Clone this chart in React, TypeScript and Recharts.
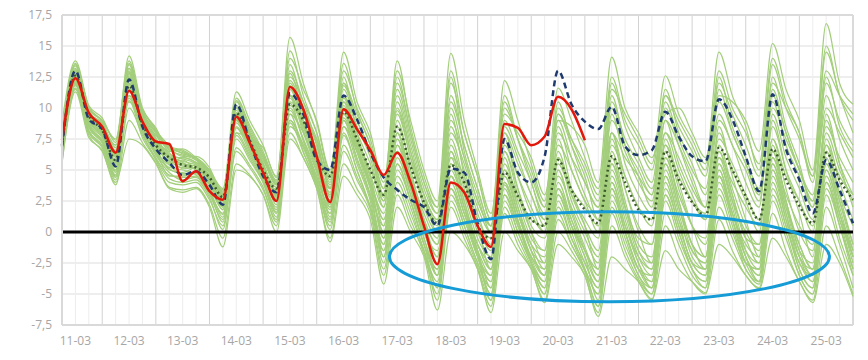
import { LineChart, Line, XAxis, YAxis, CartesianGrid, ReferenceLine, ReferenceDot } from 'recharts';

// one value every 6 hours, from 11-03 06:00 to 26-03 00:00 (hour 0 = 11-03 00:00)
const hours = Array.from({ length: 60 }, (_, i) => 6 + i * 6);

const dayLabels = ['11-03', '12-03', '13-03', '14-03', '15-03', '16-03', '17-03', '18-03', '19-03', '20-03', '21-03', '22-03', '23-03', '24-03', '25-03'];
const yTicks = [-7.5, -5, -2.5, 0, 2.5, 5, 7.5, 10, 12.5, 15, 17.5];

// measured temperatures (stops on 20-03)
const observed = [
  7.4, 12.4, 9.6, 8.5, 6.4, 11.4, 8.9, 7.3, 7.1, 4.1, 4.9, 3.3,
  2.6, 9.3, 7.2, 4.8, 2.5, 11.7, 9.9, 6.1, 2.4, 9.9, 8.3, 6.6,
  4.6, 6.4, 4.0, 0.5, -2.6, 4.0, 3.2, 0.5, -1.2, 8.7, 8.4, 7.0,
  7.7, 10.9, 9.9, 7.4,
];

// control run (dashed)
const control = [
  6.9, 13.0, 9.1, 8.3, 5.3, 12.3, 8.5, 6.7, 5.6, 4.6, 4.9, 3.8,
  2.2, 10.3, 7.3, 4.5, 3.2, 11.2, 9.5, 5.8, 5.0, 11.0, 9.1, 6.4,
  4.4, 3.4, 2.6, 2.0, 0.5, 5.1, 4.8, 0.7, -2.2, 7.5, 4.8, 4.0,
  6.1, 13.0, 10.3, 8.9, 8.3, 10.1, 6.9, 6.2, 6.6, 9.7, 7.7, 6.1,
  5.7, 10.7, 9.1, 6.1, 3.3, 11.1, 6.7, 4.2, 1.5, 5.8, 3.4, 0.7,
];

// ensemble mean (dotted)
const ensMean = [
  7.0, 12.6, 9.4, 8.2, 5.8, 11.8, 8.7, 7.0, 6.0, 5.4, 5.2, 4.4,
  2.8, 9.6, 7.4, 5.0, 3.5, 10.3, 9.0, 6.0, 4.5, 9.7, 7.5, 5.0,
  3.0, 8.5, 5.3, 2.4, 0.7, 5.4, 4.0, 0.5, -0.5, 4.8, 2.9, 1.0,
  0.5, 5.8, 3.4, 1.8, 0.7, 6.1, 4.0, 1.8, 1.0, 6.5, 4.2, 2.4,
  1.3, 6.8, 5.0, 2.9, 1.0, 6.7, 4.2, 2.1, 0.7, 6.4, 4.2, 2.6,
];

// ensemble members
const ens01 = [7.5, 13.2, 9.8, 8.6, 6.2, 12.8, 9.5, 8.0, 6.8, 6.5, 5.8, 4.6, 3.0, 10.8, 8.6, 6.5, 4.2, 15.7, 12.0, 8.8, 4.8, 14.5, 10.5, 8.0, 4.0, 13.0, 9.0, 5.0, 2.5, 14.4, 9.0, 5.0, 1.5, 9.5, 8.0, 6.0, 3.0, 9.0, 8.5, 7.0, 4.0, 14.1, 10.0, 8.0, 6.0, 9.5, 10.0, 8.0, 6.0, 11.0, 10.5, 9.0, 6.5, 15.2, 11.5, 9.0, 5.0, 16.8, 12.0, 10.3];
const ens02 = [8.8, 13.8, 10.2, 9.2, 7.2, 14.2, 10.0, 8.4, 6.5, 6.7, 6.0, 5.0, 3.5, 11.3, 9.0, 7.0, 4.5, 14.0, 11.5, 9.0, 5.0, 13.0, 10.0, 7.5, 3.5, 13.8, 8.5, 4.5, 2.0, 12.0, 8.0, 4.5, 1.0, 12.2, 9.0, 5.5, 2.5, 11.6, 9.0, 6.0, 3.5, 11.5, 9.5, 7.5, 5.5, 12.6, 9.5, 7.5, 5.5, 14.5, 11.0, 8.5, 5.0, 12.0, 10.0, 8.0, 4.0, 13.0, 11.0, 9.5];
const ens03 = [6.5, 12.9, 9.0, 7.8, 5.5, 13.5, 9.2, 7.5, 5.8, 5.2, 5.4, 4.2, 2.8, 10.0, 8.0, 6.0, 3.8, 12.5, 10.5, 8.0, 4.2, 12.0, 9.0, 6.5, 3.0, 11.5, 7.5, 3.5, 1.5, 10.5, 7.0, 3.5, 0.5, 10.0, 7.5, 4.5, 2.0, 10.0, 7.5, 5.0, 2.5, 12.0, 8.5, 6.0, 4.0, 11.0, 8.5, 6.5, 4.5, 12.0, 9.5, 7.0, 4.5, 13.5, 10.0, 7.5, 4.5, 14.5, 11.0, 8.0];
const ens04 = [7.0, 13.4, 9.6, 8.4, 6.5, 12.0, 9.0, 7.2, 5.5, 6.0, 5.6, 4.8, 2.2, 9.0, 7.5, 5.5, 3.0, 13.5, 10.0, 7.5, 3.5, 11.5, 8.5, 6.0, 2.0, 10.5, 6.5, 2.5, 0.5, 12.5, 6.5, 3.0, 0.0, 8.5, 6.0, 3.0, 1.0, 8.0, 6.0, 4.0, 2.0, 10.0, 7.0, 5.0, 3.0, 10.5, 7.5, 5.0, 3.5, 10.5, 8.0, 5.5, 3.0, 11.0, 8.0, 5.0, 2.5, 12.0, 9.0, 7.0];
const ens05 = [7.8, 12.2, 8.6, 7.4, 5.0, 11.5, 8.4, 6.8, 5.0, 4.8, 5.2, 4.0, 2.5, 9.6, 7.8, 5.2, 3.2, 11.5, 9.5, 6.5, 3.0, 10.5, 8.0, 5.5, 2.5, 9.5, 6.0, 3.0, 1.0, 9.0, 6.0, 2.5, 0.5, 11.0, 7.5, 4.0, 1.5, 9.5, 7.0, 4.5, 1.0, 9.0, 6.5, 4.0, 2.5, 9.0, 7.0, 4.5, 2.0, 12.5, 8.5, 6.0, 3.5, 10.0, 7.5, 5.0, 3.0, 10.0, 8.0, 6.0];
const ens06 = [6.8, 12.6, 9.3, 8.1, 5.6, 12.0, 8.8, 7.0, 6.0, 5.5, 5.3, 4.4, 2.6, 9.4, 7.3, 5.0, 3.4, 10.5, 9.0, 6.0, 4.4, 9.8, 7.5, 5.0, 3.0, 8.5, 5.5, 2.5, 0.8, 6.0, 4.5, 1.0, -0.5, 5.0, 3.0, 1.0, 0.5, 6.0, 3.5, 2.0, 0.5, 7.0, 4.5, 2.0, 1.0, 7.0, 4.5, 2.5, 1.5, 7.5, 5.5, 3.0, 1.0, 7.5, 4.5, 2.5, 0.5, 7.0, 4.5, 3.0];
const ens07 = [6.2, 12.0, 8.4, 7.2, 4.8, 10.8, 8.0, 6.5, 4.5, 4.5, 4.8, 3.6, 1.8, 8.5, 6.8, 4.8, 2.8, 9.5, 8.0, 5.5, 3.5, 8.5, 6.5, 4.0, 1.5, 7.5, 4.5, 1.5, -0.5, 7.5, 4.0, 0.5, -1.5, 6.5, 3.5, 0.5, -0.5, 5.5, 3.0, 1.0, -0.5, 8.0, 4.5, 2.0, 0.5, 8.0, 5.0, 2.5, 1.0, 6.0, 4.0, 2.0, 0.5, 8.5, 5.0, 2.5, 0.0, 9.0, 5.5, 3.0];
const ens08 = [7.2, 12.8, 9.6, 8.8, 6.8, 11.0, 9.8, 8.2, 7.0, 6.3, 6.0, 5.0, 3.2, 10.2, 8.2, 6.2, 4.0, 11.0, 10.0, 7.0, 3.8, 11.0, 8.5, 6.5, 2.5, 12.5, 8.0, 4.0, 1.5, 8.0, 5.5, 2.0, 0.0, 7.0, 4.5, 2.0, 0.0, 7.0, 5.0, 2.5, 1.5, 10.5, 7.5, 5.5, 3.5, 8.0, 6.0, 3.5, 2.0, 9.0, 7.0, 4.0, 2.0, 12.5, 8.5, 5.5, 2.0, 8.5, 6.0, 4.0];
const ens09 = [6.0, 12.4, 8.8, 7.6, 5.2, 12.4, 8.6, 6.6, 5.2, 5.0, 4.6, 3.2, 1.5, 8.0, 6.2, 4.2, 2.0, 10.0, 7.5, 4.5, 2.0, 9.0, 6.0, 3.0, 0.5, 8.0, 4.0, 1.0, -1.0, 6.5, 3.0, -0.5, -2.0, 5.5, 2.5, -0.5, -1.5, 6.0, 2.5, 0.0, -2.0, 5.5, 2.0, -0.5, -1.0, 6.0, 3.0, 0.5, -1.0, 5.5, 2.5, 0.0, -1.5, 6.0, 3.0, 0.5, -1.0, 6.5, 3.0, 0.5];
const ens10 = [6.4, 12.5, 9.0, 7.9, 5.8, 12.6, 9.0, 7.2, 6.2, 5.6, 5.0, 3.8, 2.0, 9.2, 7.0, 4.6, 2.5, 9.0, 7.0, 4.0, 1.5, 8.0, 5.0, 2.0, -1.0, 5.5, 2.5, -1.0, -3.0, 4.0, 1.0, -1.5, -3.5, 3.5, 0.5, -2.0, -3.0, 3.0, 0.5, -1.5, -3.5, 4.0, 0.5, -2.0, -3.0, 4.5, 1.0, -1.5, -2.5, 5.0, 1.5, -1.0, -2.0, 5.5, 2.0, -1.0, -3.0, 5.0, 1.5, -1.5];
const ens11 = [6.6, 13.0, 9.2, 8.0, 6.0, 13.2, 9.4, 7.6, 5.6, 5.8, 5.0, 4.2, 2.4, 9.8, 7.6, 5.4, 3.6, 12.0, 9.0, 6.0, 3.2, 10.0, 7.0, 4.0, 1.0, 6.5, 3.5, 0.5, -2.0, 5.0, 2.0, -1.0, -3.0, 4.5, 1.5, -1.0, -2.0, 4.5, 2.0, -0.5, -2.5, 6.5, 2.5, -1.0, -2.0, 5.5, 2.0, -1.0, -2.0, 6.5, 3.0, -0.5, -1.0, 6.5, 2.5, -1.5, -2.5, 5.5, 2.5, -1.0];
const ens12 = [5.8, 11.8, 8.2, 7.0, 4.5, 11.0, 8.2, 6.2, 4.8, 4.2, 4.4, 3.0, 1.0, 7.5, 5.8, 4.0, 1.5, 8.5, 7.0, 4.2, 1.0, 7.0, 4.5, 2.0, -1.5, 4.5, 2.0, -1.5, -4.0, 3.0, 0.5, -2.5, -4.5, 2.5, 0.0, -2.5, -4.0, 2.0, -0.5, -2.5, -4.5, 3.0, 0.0, -3.0, -4.0, 3.5, 0.5, -2.5, -3.5, 4.0, 1.0, -2.0, -3.5, 4.0, 0.5, -2.5, -4.0, 3.5, 0.5, -3.0];
const ens13 = [7.4, 12.7, 9.4, 8.4, 6.4, 12.2, 9.0, 7.4, 6.4, 5.4, 5.6, 4.6, 2.9, 9.0, 7.0, 5.0, 2.2, 10.8, 8.0, 5.0, 2.5, 9.5, 6.5, 3.5, 0.0, 7.0, 3.5, 0.0, -2.5, 4.5, 1.5, -2.0, -4.0, 3.0, 0.5, -2.5, -4.5, 1.5, -1.0, -3.0, -5.0, 2.5, -0.5, -3.5, -4.5, 2.5, -0.5, -3.0, -4.0, 3.0, 0.0, -2.5, -3.0, 4.5, 1.0, -2.0, -3.5, 4.0, 1.0, -2.0];
const ens14 = [6.9, 13.1, 9.9, 8.9, 6.6, 13.6, 9.6, 7.8, 6.6, 6.2, 5.8, 4.8, 3.1, 10.5, 8.0, 5.8, 3.9, 13.0, 10.5, 7.0, 2.8, 12.5, 8.0, 4.5, 0.5, 9.0, 5.0, 1.0, -2.0, 9.5, 4.5, 0.5, -3.0, 7.5, 3.5, 0.0, -2.5, 7.5, 3.5, 0.5, -3.0, 8.0, 3.5, 0.0, -2.5, 7.5, 4.0, 0.5, -2.0, 8.5, 4.5, 1.0, -2.0, 9.0, 5.0, 1.5, -2.0, 9.5, 5.5, 2.0];
const ens15 = [6.1, 11.6, 8.0, 6.8, 4.2, 10.0, 7.8, 5.8, 4.0, 3.8, 4.0, 2.6, 0.5, 6.5, 5.2, 3.4, 1.0, 9.5, 6.5, 3.8, 0.5, 8.5, 5.5, 2.5, -2.5, 5.0, 2.5, -1.0, -4.5, 5.5, 2.0, -2.0, -5.0, 4.0, 1.0, -2.5, -5.0, 3.0, 0.0, -3.0, -6.0, 2.0, -1.0, -3.5, -5.0, 3.0, 0.0, -3.0, -4.5, 3.5, 0.5, -3.0, -4.0, 3.0, 0.0, -3.5, -5.0, 3.0, -0.5, -3.5];
const ens16 = [8.2, 13.5, 10.0, 9.0, 7.5, 13.8, 9.8, 8.0, 6.0, 6.0, 5.6, 4.4, 2.0, 10.0, 7.8, 5.6, 3.0, 12.8, 9.5, 6.5, 2.0, 11.0, 7.5, 4.0, -0.5, 8.0, 4.5, 0.5, -3.5, 6.5, 2.5, -1.5, -5.5, 5.0, 1.5, -1.5, -3.5, 5.0, 1.5, -1.5, -4.0, 5.0, 1.5, -2.0, -3.5, 6.0, 2.5, -1.0, -3.0, 6.0, 2.5, -1.5, -3.0, 7.0, 2.5, -1.0, -3.0, 7.0, 3.0, -1.0];
const ens17 = [5.6, 11.3, 7.6, 6.6, 3.8, 9.0, 7.2, 5.6, 3.6, 3.4, 3.6, 2.2, -0.5, 5.5, 4.6, 3.0, 0.5, 8.0, 6.0, 3.5, -0.5, 5.5, 3.5, 1.5, -3.5, 3.0, 0.5, -1.5, -5.5, 2.0, -0.5, -3.0, -6.0, 1.5, -1.0, -3.0, -5.5, 0.0, -1.5, -3.5, -6.5, 0.5, -2.0, -4.0, -5.5, 0.5, -2.0, -4.0, -5.0, 1.0, -1.5, -3.5, -4.5, 1.5, -1.5, -4.0, -5.5, 0.5, -2.0, -5.0];
const ens18 = [5.5, 11.5, 7.8, 6.5, 4.0, 7.5, 7.0, 5.5, 3.5, 3.2, 3.5, 2.0, -1.2, 5.0, 4.5, 3.0, 0.0, 7.5, 6.0, 3.5, -0.8, 4.5, 3.0, 1.0, -4.2, 2.0, 0.0, -2.0, -6.3, 0.0, -1.0, -3.0, -6.5, 0.0, -1.5, -3.0, -5.7, -1.0, -2.0, -3.5, -6.8, -2.0, -3.0, -4.0, -5.4, -1.5, -3.0, -4.0, -4.9, -1.0, -2.0, -3.5, -4.6, -0.5, -2.0, -4.0, -5.7, -1.0, -2.5, -5.2];
const ens19 = [7.6, 12.3, 9.5, 8.5, 7.0, 10.5, 9.0, 7.8, 6.9, 6.6, 5.9, 4.9, 3.3, 8.0, 7.5, 6.8, 4.4, 11.0, 8.5, 7.5, 4.6, 12.0, 9.5, 7.0, 3.5, 11.0, 7.0, 3.0, 0.0, 11.0, 7.0, 3.5, 0.5, 9.0, 6.5, 4.0, 1.0, 10.5, 7.0, 4.0, 2.0, 8.0, 6.0, 4.5, 3.0, 11.5, 8.0, 5.5, 3.0, 9.5, 7.0, 5.0, 2.5, 10.5, 7.0, 4.5, 2.0, 11.0, 7.5, 5.0];
const ens20 = [6.3, 12.1, 8.7, 7.3, 5.0, 11.8, 8.4, 6.4, 5.4, 4.6, 4.8, 3.4, 1.2, 8.8, 6.6, 4.4, 1.8, 9.8, 7.5, 4.8, 1.5, 9.2, 6.5, 3.5, -2.0, 6.5, 3.0, -0.5, -3.5, 3.5, 1.0, -2.0, -3.5, 6.0, 2.0, -1.5, -3.5, 4.0, 1.0, -2.0, -4.0, 4.5, 1.0, -2.5, -4.5, 4.0, 0.5, -2.5, -3.5, 5.0, 1.5, -2.0, -4.0, 5.0, 1.0, -3.0, -4.5, 6.0, 1.5, -2.5];
const ens21 = [6.7, 12.6, 9.1, 8.0, 5.4, 12.9, 8.9, 7.0, 5.9, 5.3, 5.1, 4.0, 1.8, 9.0, 6.8, 4.7, 2.6, 11.5, 8.5, 5.5, 1.2, 10.5, 6.5, 3.0, -1.0, 7.5, 3.5, -0.5, -3.0, 5.5, 2.0, -1.5, -4.5, 4.0, 1.0, -2.0, -3.5, 3.5, 0.5, -2.0, -5.5, 3.5, 0.0, -3.0, -3.5, 5.0, 1.5, -2.0, -3.0, 5.5, 2.0, -2.0, -3.5, 6.0, 2.0, -2.0, -4.0, 4.5, 1.0, -3.0];
const ens22 = [7.1, 12.9, 9.5, 8.3, 6.1, 13.0, 9.3, 7.5, 6.3, 5.9, 5.5, 4.3, 2.3, 9.6, 7.2, 5.1, 2.9, 11.0, 8.5, 5.5, 2.2, 9.8, 6.8, 3.8, -0.5, 6.0, 3.0, 0.0, -1.5, 4.5, 1.5, -1.0, -2.5, 4.5, 1.5, -1.5, -2.5, 3.5, 1.0, -1.5, -3.0, 5.5, 2.0, -1.5, -2.5, 5.5, 2.0, -1.5, -2.5, 4.5, 1.5, -1.5, -2.5, 5.0, 1.5, -2.0, -3.0, 5.5, 2.0, -2.0];
const ens23 = [6.5, 12.8, 9.0, 7.7, 5.7, 12.5, 8.8, 6.9, 5.7, 5.5, 5.0, 3.9, 2.1, 9.3, 7.1, 4.9, 2.7, 11.0, 8.2, 5.2, 2.6, 10.2, 7.0, 3.8, 0.0, 7.0, 3.8, 0.2, -2.5, 6.0, 2.5, -1.0, -3.0, 5.0, 2.0, -1.0, -3.0, 5.0, 1.8, -1.2, -3.5, 6.0, 2.0, -1.5, -3.0, 6.5, 2.5, -1.0, -2.0, 6.5, 3.0, -0.5, -2.5, 6.5, 2.5, -1.5, -3.5, 6.5, 2.5, -1.5];
const ens24 = [7.3, 12.5, 9.2, 8.0, 6.3, 11.6, 8.6, 7.2, 6.1, 5.1, 5.2, 4.1, 2.7, 9.1, 7.4, 5.3, 3.3, 10.2, 8.6, 5.8, 3.6, 9.5, 7.2, 4.6, 2.0, 9.8, 6.0, 2.0, 0.0, 8.5, 5.0, 1.5, -1.0, 8.0, 4.5, 1.5, 0.0, 8.5, 5.0, 2.5, 0.0, 9.5, 5.5, 3.0, 1.5, 9.0, 5.5, 3.0, 1.0, 8.0, 5.0, 2.5, 0.0, 9.5, 6.0, 3.5, 1.0, 8.0, 5.0, 2.5];
const ens25 = [6.0, 12.0, 8.5, 7.2, 4.6, 11.4, 8.0, 6.0, 4.6, 4.4, 4.5, 3.2, 0.8, 7.8, 6.0, 4.0, 1.2, 9.0, 6.8, 4.0, 0.8, 7.8, 5.0, 2.0, -2.0, 4.0, 1.5, -1.5, -4.5, 3.5, 0.5, -2.5, -5.0, 3.0, 0.0, -2.5, -4.5, 2.5, -0.5, -3.0, -5.0, 3.5, 0.0, -3.0, -4.5, 3.0, 0.0, -3.0, -4.0, 4.5, 1.0, -2.5, -4.0, 3.5, 0.5, -3.0, -4.5, 4.0, 0.5, -3.5];
const ens26 = [7.9, 13.6, 10.1, 9.0, 7.4, 13.2, 9.9, 8.3, 6.7, 6.4, 5.9, 4.9, 3.4, 10.6, 8.4, 6.3, 4.1, 14.6, 11.0, 8.0, 4.5, 13.6, 9.8, 7.0, 3.0, 12.0, 8.0, 4.0, 2.0, 13.0, 8.0, 4.5, 1.0, 10.5, 7.5, 5.0, 2.0, 9.5, 7.5, 5.5, 3.0, 12.5, 9.0, 7.0, 5.0, 11.0, 9.0, 7.0, 5.0, 13.0, 10.0, 8.0, 5.5, 14.0, 10.5, 8.0, 4.5, 15.0, 11.0, 9.0];
const ens27 = [6.2, 12.2, 8.6, 7.4, 4.9, 11.9, 8.3, 6.3, 5.1, 4.7, 4.7, 3.3, 1.4, 8.4, 6.4, 4.3, 1.6, 10.4, 7.3, 4.4, 1.8, 9.0, 5.8, 2.8, -1.5, 5.5, 2.5, -1.0, -3.5, 4.5, 1.5, -1.8, -4.0, 3.8, 0.8, -2.2, -4.0, 3.5, 0.5, -2.5, -4.5, 4.0, 0.5, -2.5, -4.0, 4.5, 1.0, -2.5, -3.0, 4.5, 1.0, -2.5, -3.0, 5.5, 1.5, -2.5, -3.5, 5.0, 1.5, -2.0];
const ens28 = [6.6, 12.7, 9.3, 8.2, 6.2, 12.7, 9.1, 7.3, 6.1, 5.7, 5.4, 4.2, 2.5, 9.5, 7.3, 5.2, 3.1, 11.8, 8.8, 5.8, 3.0, 10.8, 7.4, 4.4, 1.0, 8.0, 4.5, 1.0, -1.0, 7.0, 3.5, 0.0, -2.0, 6.5, 3.0, 0.0, -1.5, 6.5, 3.0, 0.5, -1.5, 7.5, 3.5, 0.5, -1.0, 7.0, 3.5, 0.5, -0.5, 7.0, 3.5, 0.5, -1.0, 7.5, 3.5, 0.0, -1.5, 7.5, 4.0, 1.0];
const ens29 = [5.9, 11.9, 8.1, 6.9, 4.4, 10.6, 7.6, 5.9, 4.3, 4.0, 4.2, 2.8, 0.2, 6.8, 5.4, 3.6, 0.8, 8.8, 6.4, 3.8, 0.2, 6.5, 4.2, 1.8, -3.0, 3.5, 1.0, -1.8, -5.0, 2.5, 0.0, -2.8, -5.5, 2.0, -0.5, -2.8, -5.0, 1.0, -1.0, -3.2, -6.0, 1.5, -1.5, -3.8, -5.0, 1.5, -1.0, -3.5, -4.5, 2.0, -0.5, -3.0, -4.2, 2.5, -0.5, -3.5, -5.0, 2.0, -1.0, -4.5];
const ens30 = [7.7, 13.0, 9.7, 8.7, 7.0, 12.4, 9.6, 8.1, 6.8, 6.1, 6.1, 5.2, 3.0, 10.0, 8.0, 6.0, 3.8, 12.2, 9.8, 7.2, 4.0, 11.8, 9.0, 6.5, 2.8, 10.0, 6.5, 3.0, 1.0, 10.0, 6.0, 2.5, 0.5, 8.0, 5.5, 3.0, 0.5, 9.0, 6.0, 3.0, 1.0, 11.0, 7.0, 4.5, 2.0, 10.0, 7.0, 4.0, 2.0, 11.5, 8.0, 5.5, 3.0, 11.5, 8.0, 5.0, 2.5, 12.5, 8.5, 6.5];

const members = [ens01, ens02, ens03, ens04, ens05, ens06, ens07, ens08, ens09, ens10, ens11, ens12, ens13, ens14, ens15, ens16, ens17, ens18, ens19, ens20, ens21, ens22, ens23, ens24, ens25, ens26, ens27, ens28, ens29, ens30];

const rows = hours.map((h, i) => {
  const row: Record<string, number | undefined> = { h, obs: observed[i], ctrl: control[i], mean: ensMean[i] };
  members.forEach((m, k) => { row[`m${k}`] = m[i]; });
  return row;
});

const labelTicks = dayLabels.map((_, i) => 12 + i * 24);
const minorLines = hours.filter(h => h % 24 !== 0 && h > 6);
const majorLines = hours.filter(h => h % 24 === 0 && h < 360);

const tickStyle = { fill: '#a6a6a6', fontSize: 12, fontFamily: '"Open Sans", sans-serif' };

const Ellipse = (props: any) => (
  <ellipse cx={props.cx} cy={props.cy} rx={220} ry={45} fill="none" stroke="#159bd6" strokeWidth={3} />
);

export default function App() {
  return (
    <div style={{ position: 'absolute', left: 0, top: 0, background: '#fff' }}>
      <LineChart width={868} height={360} data={rows} margin={{ top: 15, right: 15, bottom: 5, left: 0 }}>
        <CartesianGrid vertical={false} stroke="#e9e9e9" strokeWidth={1.5} />
        {minorLines.map(h => (
          <ReferenceLine key={`mi${h}`} x={h} stroke="#ededed" strokeWidth={1} />
        ))}
        {majorLines.map(h => (
          <ReferenceLine key={`ma${h}`} x={h} stroke="#d2d2d2" strokeWidth={1} />
        ))}
        <ReferenceLine y={17.5} stroke="#dadada" strokeWidth={2} />
        <ReferenceLine x={360} stroke="#dadada" strokeWidth={2} />
        <XAxis
          type="number"
          dataKey="h"
          domain={[6, 360]}
          ticks={labelTicks}
          interval={0}
          tickFormatter={(v: number) => dayLabels[Math.round((v - 12) / 24)]}
          tick={tickStyle}
          tickSize={0}
          tickMargin={11}
          axisLine={{ stroke: '#d9d9d9', strokeWidth: 2 }}
          height={30}
        />
        <YAxis
          type="number"
          domain={[-7.5, 17.5]}
          ticks={yTicks}
          interval={0}
          tickFormatter={(v: number) => String(v).replace('.', ',')}
          tick={tickStyle}
          tickSize={0}
          tickMargin={10}
          axisLine={{ stroke: '#d9d9d9', strokeWidth: 2 }}
          width={62}
        />
        {members.map((_, k) => (
          <Line
            key={`m${k}`}
            type="monotone"
            dataKey={`m${k}`}
            stroke="#a3ce7b"
            strokeWidth={1.2}
            dot={false}
            activeDot={false}
            isAnimationActive={false}
          />
        ))}
        <ReferenceLine y={0} stroke="#000" strokeWidth={3} />
        <Line type="monotone" dataKey="mean" stroke="#3d5a2c" strokeWidth={2.5} strokeDasharray="2 3" dot={false} activeDot={false} isAnimationActive={false} />
        <Line type="monotone" dataKey="ctrl" stroke="#1f3a6e" strokeWidth={2.5} strokeDasharray="6 4" dot={false} activeDot={false} isAnimationActive={false} />
        <Line type="monotone" dataKey="obs" stroke="#e2180c" strokeWidth={2.5} dot={false} activeDot={false} isAnimationActive={false} />
        <ReferenceDot x={251} y={-2} r={0} shape={Ellipse} />
      </LineChart>
    </div>
  );
}
